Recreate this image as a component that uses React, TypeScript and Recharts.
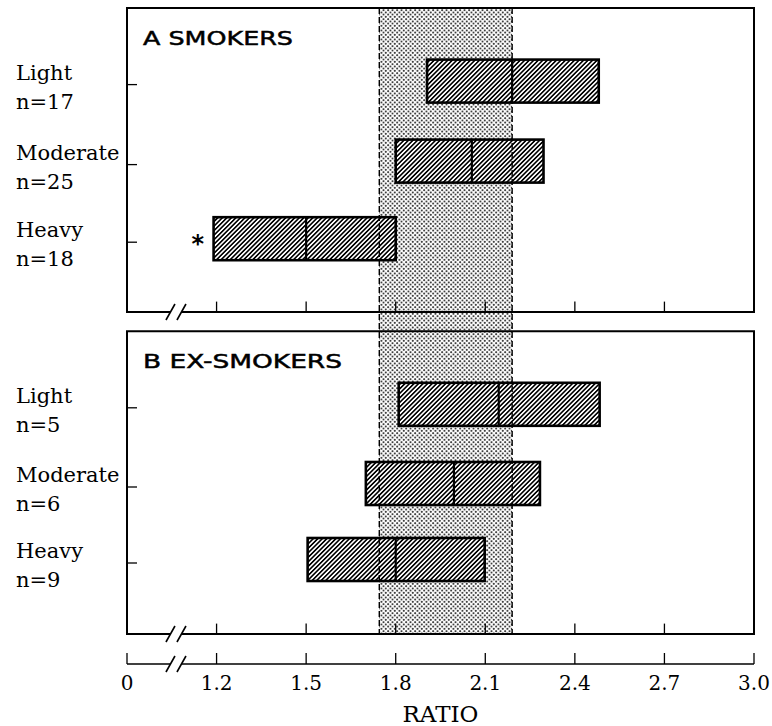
import React from 'react';
import {
  ComposedChart,
  Bar,
  XAxis,
  YAxis,
  ReferenceArea,
  ReferenceLine,
  ReferenceDot,
} from 'recharts';

// ---------------- data ----------------
const categories = ['Light', 'Moderate', 'Heavy'];

const smokersN = [17, 25, 18];
const smokersLow = [1.905, 1.8, 1.19];
const smokersMedian = [2.19, 2.055, 1.5];
const smokersHigh = [2.48, 2.295, 1.8];
const smokersSignificant = [false, false, true];

const exSmokersN = [5, 6, 9];
const exSmokersLow = [1.81, 1.7, 1.505];
const exSmokersMedian = [2.145, 1.995, 1.8];
const exSmokersHigh = [2.483, 2.283, 2.098];
const exSmokersSignificant = [false, false, false];

const normalRange = [1.745, 2.19];

const xTicks = [0.9, 1.2, 1.5, 1.8, 2.1, 2.4, 2.7, 3.0];
const xTickLabels = ['0', '1.2', '1.5', '1.8', '2.1', '2.4', '2.7', '3.0'];
const innerTicks = [1.2, 1.5, 1.8, 2.1, 2.4, 2.7];

const panelTitles = ['A SMOKERS', 'B EX-SMOKERS'];
const xAxisTitle = 'RATIO';

// ---------------- layout ----------------
const W = 772;
const H = 726;
const X_MIN = 0.9;
const X_MAX = 3.0;
const Y_MAX = 8.2;
const PANEL_A = [0, 3.8];
const PANEL_B = [4.04, 7.825];
const ROWS_A = [0.92, 1.92, 2.89];
const ROWS_B = [4.96, 5.95, 6.9];
const BREAK_X = 1.064;
const TICK_LEN_UNITS = 0.13;

const SERIF = "'DejaVu Serif', serif";
const SANS = "'DejaVu Sans', sans-serif";

const rows = [
  ...categories.map((c, i) => ({
    pos: ROWS_A[i],
    label: c,
    n: smokersN[i],
    low: smokersLow[i],
    median: smokersMedian[i],
    high: smokersHigh[i],
    range: [smokersLow[i], smokersHigh[i]],
    sig: smokersSignificant[i],
  })),
  ...categories.map((c, i) => ({
    pos: ROWS_B[i],
    label: c,
    n: exSmokersN[i],
    low: exSmokersLow[i],
    median: exSmokersMedian[i],
    high: exSmokersHigh[i],
    range: [exSmokersLow[i], exSmokersHigh[i]],
    sig: exSmokersSignificant[i],
  })),
];

const findRow = (v: number) => {
  let best = rows[0];
  rows.forEach((r) => {
    if (Math.abs(r.pos - v) < Math.abs(best.pos - v)) best = r;
  });
  return best;
};

const BoxShape = (props: any) => {
  const { x, y, width, height, payload } = props;
  if (x == null || width == null) return null;
  const mx = x + (width * (payload.median - payload.low)) / (payload.high - payload.low);
  return (
    <g>
      <rect x={x} y={y} width={width} height={height} fill="url(#hatch)" stroke="#000" strokeWidth={2.6} />
      <line x1={mx} x2={mx} y1={y} y2={y + height} stroke="#000" strokeWidth={2.2} />
      {payload.sig ? (
        <text x={x - 22} y={y + height / 2 + 13} fontFamily={SANS} fontSize={24} fontWeight="bold" fill="#000">
          *
        </text>
      ) : null}
    </g>
  );
};

const YTick = (props: any) => {
  const { x, y, payload } = props;
  const r = findRow(payload.value);
  return (
    <g>
      <line x1={x} x2={x + 10} y1={y + 3} y2={y + 3} stroke="#000" strokeWidth={1.3} />
      <text x={x - 111} y={y - 2} fontFamily={SERIF} fontSize={21} fill="#000">
        {r.label}
      </text>
      <text x={x - 111} y={y + 27} fontFamily={SERIF} fontSize={21} fill="#000">
        {`n=${r.n}`}
      </text>
    </g>
  );
};

const XTick = (props: any) => {
  const { x, y, payload } = props;
  const i = xTicks.findIndex((t) => Math.abs(t - payload.value) < 1e-6);
  return (
    <g>
      <line x1={x} x2={x} y1={y} y2={y - 11} stroke="#000" strokeWidth={1.3} />
      <text x={x} y={y + 26} textAnchor="middle" fontFamily={SERIF} fontSize={20} fill="#000">
        {i >= 0 ? xTickLabels[i] : ''}
      </text>
    </g>
  );
};

const BreakMark = (props: any) => {
  const { cx, cy } = props;
  if (cx == null || cy == null) return null;
  return (
    <g>
      <rect x={cx - 5.5} y={cy - 2} width={11} height={4} fill="#fff" />
      <line x1={cx - 10} y1={cy + 8} x2={cx - 1} y2={cy - 8} stroke="#000" strokeWidth={1.6} />
      <line x1={cx + 1} y1={cy + 8} x2={cx + 10} y2={cy - 8} stroke="#000" strokeWidth={1.6} />
    </g>
  );
};

const makeTitle = (text: string, len: number) => (props: any) => {
  const { cx, cy } = props;
  if (cx == null || cy == null) return null;
  return (
    <text
      x={cx + 16}
      y={cy + 36.5}
      fontFamily={SANS}
      fontSize={20}
      fill="#000"
      stroke="#000"
      strokeWidth={0.5}
      textLength={len}
      lengthAdjust="spacingAndGlyphs"
    >
      {text}
    </text>
  );
};

export default function App() {
  const panels = [PANEL_A, PANEL_B];
  return (
    <div style={{ position: 'absolute', left: 0, top: 0, width: W, height: H, background: '#fff' }}>
      <svg width={0} height={0} style={{ position: 'absolute' }}>
        <defs>
          <pattern id="dots" patternUnits="userSpaceOnUse" width={4.5} height={4.5}>
            <rect width={4.5} height={4.5} fill="#fff" />
            <circle cx={1.1} cy={1.1} r={0.95} fill="#000" />
            <circle cx={3.35} cy={3.35} r={0.95} fill="#000" />
          </pattern>
          <pattern id="hatch" patternUnits="userSpaceOnUse" width={3.2} height={3.2} patternTransform="rotate(45)">
            <rect width={3.2} height={3.2} fill="#fff" />
            <line x1={0.8} y1={0} x2={0.8} y2={3.2} stroke="#000" strokeWidth={1.6} />
          </pattern>
        </defs>
      </svg>
      <ComposedChart
        width={W}
        height={H}
        data={rows}
        layout="vertical"
        margin={{ top: 8, right: 18, bottom: 0, left: 8 }}
      >
        <XAxis
          type="number"
          dataKey="high"
          domain={[X_MIN, X_MAX]}
          allowDataOverflow
          ticks={xTicks}
          interval={0}
          axisLine={false}
          tickLine={false}
          tickSize={0}
          tickMargin={0}
          height={62}
          tick={<XTick />}
          label={{
            value: xAxisTitle,
            position: 'insideBottom',
            offset: 4,
            fill: '#000',
            fontSize: 23,
            fontFamily: SERIF,
          }}
        />
        <YAxis
          type="number"
          dataKey="pos"
          domain={[0, Y_MAX]}
          allowDataOverflow
          ticks={[...ROWS_A, ...ROWS_B]}
          interval={0}
          axisLine={false}
          tickLine={false}
          tickSize={0}
          tickMargin={0}
          width={119}
          tick={<YTick />}
        />

        <ReferenceArea
          x1={normalRange[0]}
          x2={normalRange[1]}
          y1={PANEL_A[0]}
          y2={PANEL_B[1]}
          fill="url(#dots)"
          fillOpacity={1}
          stroke="none"
          ifOverflow="visible"
        />

        {panels.map((p, i) => (
          <ReferenceArea
            key={`panel-${i}`}
            x1={X_MIN}
            x2={X_MAX}
            y1={p[0]}
            y2={p[1]}
            fill="none"
            fillOpacity={0}
            stroke="#000"
            strokeWidth={2}
            ifOverflow="visible"
          />
        ))}

        <Bar dataKey="range" barSize={43} shape={<BoxShape />} isAnimationActive={false} />

        {normalRange.map((v, i) => (
          <ReferenceLine
            key={`edge-${i}`}
            segment={[
              { x: v, y: PANEL_A[0] },
              { x: v, y: PANEL_B[1] },
            ]}
            stroke="#000"
            strokeWidth={1.4}
            strokeDasharray="6 3"
            ifOverflow="visible"
          />
        ))}

        {panels.map((p, pi) =>
          innerTicks.map((t) => (
            <ReferenceLine
              key={`it-${pi}-${t}`}
              segment={[
                { x: t, y: p[1] },
                { x: t, y: p[1] - TICK_LEN_UNITS },
              ]}
              stroke="#000"
              strokeWidth={1.3}
              ifOverflow="visible"
            />
          ))
        )}

        <ReferenceLine
          segment={[
            { x: X_MIN, y: Y_MAX },
            { x: X_MAX, y: Y_MAX },
          ]}
          stroke="#000"
          strokeWidth={1.6}
          ifOverflow="visible"
        />

        {[PANEL_A[1], PANEL_B[1], Y_MAX].map((yv, i) => (
          <ReferenceDot key={`br-${i}`} x={BREAK_X} y={yv} r={1} shape={<BreakMark />} ifOverflow="visible" />
        ))}

        {panels.map((p, i) => (
          <ReferenceDot
            key={`title-${i}`}
            x={X_MIN}
            y={p[0]}
            r={1}
            shape={makeTitle(panelTitles[i], i === 0 ? 150 : 199)}
            ifOverflow="visible"
          />
        ))}
      </ComposedChart>
    </div>
  );
}
